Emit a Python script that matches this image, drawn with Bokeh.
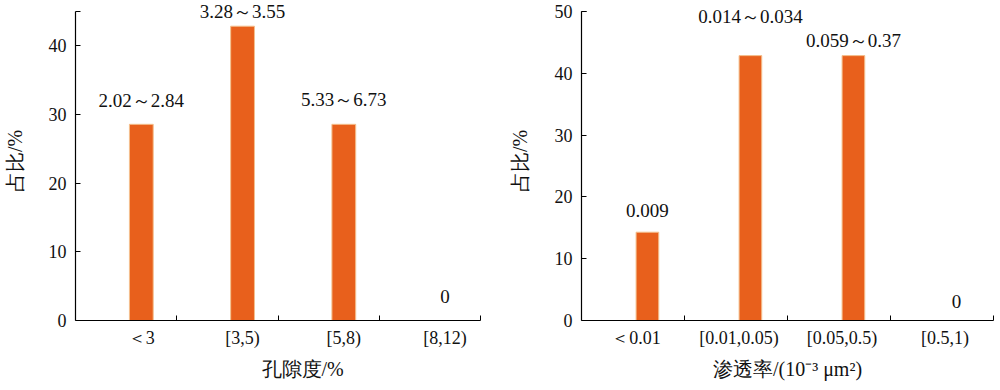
from bokeh.plotting import figure
from bokeh.layouts import row
from bokeh.models import ColumnDataSource, LabelSet, Title, FixedTicker, Range1d
from bokeh.embed import file_html
from bokeh.resources import INLINE

# ---- data ----
por_cats = ["＜3", "[3,5)", "[5,8)", "[8,12)"]
por_share = [28.57, 42.86, 28.57, 0.0]
por_ranges = ["2.02～2.84", "3.28～3.55", "5.33～6.73", "0"]

perm_cats = ["＜0.01", "[0.01,0.05)", "[0.05,0.5)", "[0.5,1)"]
perm_share = [14.29, 42.86, 42.86, 0.0]
perm_ranges = ["0.009", "0.014～0.034", "0.059～0.37", "0"]

por_yticks = [0, 10, 20, 30, 40]
perm_yticks = [0, 10, 20, 30, 40, 50]

# ---- style ----
FONT = "Liberation Serif"
BAR = "#E8601C"
EDGE = "#F4C08E"
TXT = "#111111"


def panel(cats, share, ranges, yticks, ymax, headroom, xtitle, title_align, title_shift,
          bar_shift, bar_w, lab_shift, label_dy, width, bl, br, ystand):
    n = len(cats)
    xs = [i + 0.5 + bar_shift for i in range(n)]
    p = figure(width=width, height=390, output_backend="svg", toolbar_location=None,
               x_range=Range1d(0, n), y_range=Range1d(0, ymax + headroom),
               min_border_left=bl, min_border_right=br, min_border_top=1,
               min_border_bottom=70)
    p.outline_line_color = None
    p.xgrid.visible = False
    p.ygrid.visible = False
    p.background_fill_color = "white"

    src = ColumnDataSource(dict(x=xs, top=share, txt=ranges, dy=label_dy))
    p.vbar(x="x", top="top", width=bar_w, bottom=0, source=src,
           fill_color=BAR, line_color=EDGE, line_width=1)
    p.add_layout(LabelSet(x="x", y="top", text="txt", y_offset="dy", source=src,
                          text_align="center", text_baseline="middle",
                          text_font=FONT, text_font_size="19px", text_color=TXT))

    # x axis
    lab_pos = [i + 0.5 + lab_shift for i in range(n)]
    xa = p.xaxis[0]
    xa.ticker = FixedTicker(ticks=lab_pos, minor_ticks=list(range(1, n + 1)))
    xa.major_label_overrides = {lab_pos[i]: cats[i] for i in range(n)}
    xa.major_tick_in = 0
    xa.major_tick_out = 0
    xa.minor_tick_in = 5
    xa.minor_tick_out = 0
    xa.minor_tick_line_color = "black"
    xa.axis_line_color = "black"
    xa.axis_line_width = 1.2
    xa.major_label_standoff = 7
    xa.major_label_text_font = FONT
    xa.major_label_text_font_size = "18px"
    xa.major_label_text_color = TXT
    p.add_layout(Title(text=xtitle, align=title_align, offset=title_shift, standoff=10,
                       text_font=FONT, text_font_size="20px", text_font_style="normal",
                       text_color=TXT), "below")

    # y axis
    ya = p.yaxis[0]
    ya.bounds = (0, ymax)
    ya.ticker = FixedTicker(ticks=yticks, minor_ticks=[ymax])
    ya.major_tick_in = 5
    ya.major_tick_out = 0
    ya.minor_tick_in = 5
    ya.minor_tick_out = 0
    ya.minor_tick_line_color = "black"
    ya.axis_line_color = "black"
    ya.axis_line_width = 1.2
    ya.major_label_standoff = 9
    ya.major_label_text_font = FONT
    ya.major_label_text_font_size = "18px"
    ya.major_label_text_color = TXT
    ya.axis_label = "占比/%"
    ya.axis_label_text_font = FONT
    ya.axis_label_text_font_size = "20px"
    ya.axis_label_text_font_style = "normal"
    ya.axis_label_text_color = TXT
    ya.axis_label_standoff = ystand
    return p


p1 = panel(por_cats, por_share, por_ranges, por_yticks, 45, 1.456, "孔隙度/%", "left", 186,
           0.15, 0.235, 0.15, [24, 15, 25, 24], 500, 73, 20, 20)
p2 = panel(perm_cats, perm_share, perm_ranges, perm_yticks, 50, 1.618, "渗透率/(10⁻³ μm²)",
           "center", 0, 0.14, 0.22, 0.03, [22, 39, 15, 19], 500, 81, 7, 21)

layout = row(p1, p2)
open("out.html", "w").write(file_html(layout, INLINE))
